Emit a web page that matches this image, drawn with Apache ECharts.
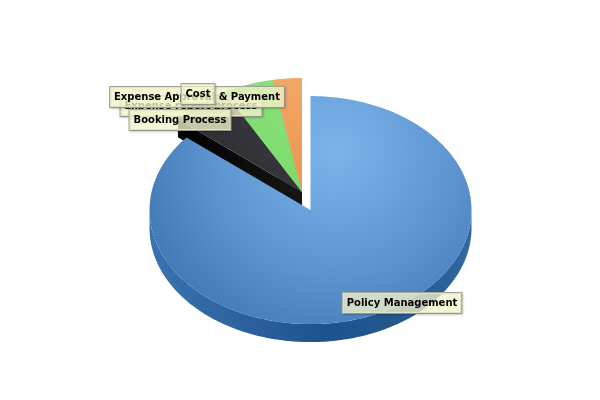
<!DOCTYPE html>
<html><head><meta charset="utf-8">
<script src="https://cdn.jsdelivr.net/npm/echarts@6/dist/echarts.min.js"></script>
<style>html,body{margin:0;padding:0;background:#fff}#main{width:600px;height:400px}</style>
</head><body><div id="main"></div>
<script>
// ---- data ----
const categories = ['Policy Management', 'Booking Process', 'Expense report process', 'Expense Approval & Payment', 'Cost'];
const values = [86.0, 6.0, 5.1, 2.9, 0];
const exploded = [true, false, false, false, false];

// ---- styling / layout (not data) ----
const topStops = [
  [['#7db5ea', 0], ['#5c93cf', 0.55], ['#3a72ae', 1]],
  [['#2a292e', 0], ['#3e3d43', 1]],
  [['#76d866', 0], ['#8ce27c', 1]],
  [['#ec9350', 0], ['#f2a866', 1]],
  [['#f5e27a', 0], ['#f5e27a', 1]]
];
const wallColors = [['#2a5f9a', '#1d538d'], ['#161616', '#000000'], ['#4fa842', '#3f8f34'], ['#b8662a', '#a0561f'], ['#c9b24a', '#b09a3a']];
const labelDrawOrder = [2, 3, 1, 4, 0];
const labelCenters = { 0: [402, 303], 1: [180, 120], 2: [191, 106], 3: [197, 97], 4: [198, 94] };

const CX = 302, CY = 192, RX = 161, RY = 114, DEPTH = 18, EXPLODE = 20;

function rad(d) { return d * Math.PI / 180; }
function pt(c, t, dz) { return [c[0] + RX * Math.cos(rad(t)), c[1] - RY * Math.sin(rad(t)) + (dz || 0)]; }
function arc(c, a, b, dz) {
  const pts = []; const n = Math.max(2, Math.ceil(Math.abs(b - a)));
  for (let k = 0; k <= n; k++) pts.push(pt(c, a + (b - a) * k / n, dz));
  return pts;
}
function lin(stops, x1, y1, x2, y2) {
  return { type: 'linear', x: x1, y: y1, x2: x2, y2: y2, global: false,
    colorStops: stops.map(s => ({ color: s[0], offset: s[1] })) };
}

function renderItem(params, api) {
  const total = values.reduce((a, b) => a + b, 0);
  let cum = 0;
  const slices = [];
  values.forEach((v, i) => {
    const frac = v / total;
    const hi = 90 - cum * 360, lo = 90 - (cum + frac) * 360;
    cum += frac;
    if (frac <= 0) return;
    const mid = (lo + hi) / 2;
    const c = exploded[i] ? [CX + EXPLODE * Math.cos(rad(mid)), CY - EXPLODE * Math.sin(rad(mid))] : [CX, CY];
    slices.push({ i, lo, hi, mid, c });
  });
  const radialWalls = [], rimWalls = [], tops = [];
  slices.forEach(s => {
    const faces = [];
    if (Math.cos(rad(s.lo)) > 1e-6) faces.push(s.lo);
    if (Math.cos(rad(s.hi)) < -1e-6) faces.push(s.hi);
    faces.forEach(a => {
      const p = pt(s.c, a);
      radialWalls.push({ y: (p[1] + s.c[1]) / 2, el: {
        type: 'polygon', shape: { points: [s.c, p, [p[0], p[1] + DEPTH], [s.c[0], s.c[1] + DEPTH]] },
        style: { fill: lin([[wallColors[s.i][0], 0], [wallColors[s.i][1], 1]], 1, 0, 0, 0) } } });
    });
    for (let k = -1; k <= 1; k++) {
      const a = Math.max(s.lo, -180 + 360 * k), b = Math.min(s.hi, 360 * k);
      if (b - a > 0.01) {
        const pts = arc(s.c, a, b, 0).concat(arc(s.c, b, a, DEPTH));
        const fill = s.i === 0
          ? lin([['#3a74b0', 0], ['#2c619d', 0.3], ['#1d538d', 0.55], ['#24598f', 0.8], ['#3068a3', 1]], 0, 0, 1, 0)
          : wallColors[s.i][1];
        rimWalls.push({ el: { type: 'polygon', shape: { points: pts }, style: { fill } } });
      }
    }
    const tp = [s.c].concat(arc(s.c, s.lo, s.hi, 0));
    let fill;
    if (s.i === 0) {
      fill = { type: 'radial', x: 335, y: 150, r: 230, global: true,
        colorStops: topStops[0].map(q => ({ color: q[0], offset: q[1] })) };
    } else {
      fill = lin(topStops[s.i], 0, 1, 1, 0);
    }
    tops.push({ el: { type: 'polygon', shape: { points: tp }, style: { fill } } });
  });
  radialWalls.sort((a, b) => a.y - b.y);
  const children = [];
  radialWalls.forEach(w => children.push(w.el));
  rimWalls.forEach(w => children.push(w.el));
  tops.forEach(w => children.push(w.el));
  labelDrawOrder.forEach(i => {
    const lc = labelCenters[i];
    children.push({
      type: 'text',
      style: {
        text: categories[i], x: lc[0], y: lc[1], align: 'center', verticalAlign: 'middle',
        font: 'bold 10px "DejaVu Sans"', fill: '#000',
        backgroundColor: 'rgba(255,255,212,0.74)', borderColor: '#a4a49c', borderWidth: 1,
        padding: [5, 4, 5, 4],
        shadowColor: 'rgba(0,0,0,0.18)', shadowBlur: 2, shadowOffsetX: 1, shadowOffsetY: 1
      }
    });
  });
  return { type: 'group', children };
}

const chart = echarts.init(document.getElementById('main'), null, { renderer: 'canvas' });
chart.setOption({
  backgroundColor: '#ffffff',
  animation: false,
  series: [{ type: 'custom', coordinateSystem: 'none', silent: true, data: [0], renderItem }]
});
</script></body></html>
